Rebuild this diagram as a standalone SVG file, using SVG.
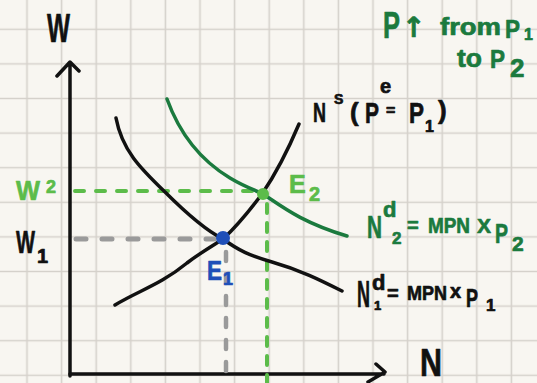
<svg xmlns="http://www.w3.org/2000/svg" width="537" height="383" viewBox="0 0 537 383">
<defs>
<pattern id="grid" patternUnits="userSpaceOnUse" x="9.7" y="12" width="34.6" height="34.6">
<path d="M17.3,0 V34.6 M0,17.3 H34.6" stroke="#d5d1cb" stroke-width="1.6" fill="none"/>
</pattern>
<style>
.t{font-family:"Liberation Sans","DejaVu Sans",sans-serif;font-weight:bold;stroke-width:0.7;stroke-linejoin:round}
.k{fill:#111;stroke:#111}
.dg{fill:#1b7a3e;stroke:#1b7a3e}
.lg{fill:#5cbc4a;stroke:#5cbc4a}
.bl{fill:#1f4fb8;stroke:#1f4fb8}
.ax{stroke:#111;stroke-width:3.5;fill:none;stroke-linecap:round;stroke-linejoin:round}
.cv{stroke-width:3.5;fill:none;stroke-linecap:round}
.dash{fill:none;stroke-linecap:round}
</style>
</defs>
<rect width="537" height="383" fill="#f8f6f1"/>
<rect width="537" height="383" fill="url(#grid)"/>

<g id="axes">
<path class="ax" d="M70,376 V63 M57,76 L70,62 L79,71"/>
<path class="ax" d="M70,374 H384 M376,364 L385,372 L368,382"/>
<text class="t k" x="47" y="42" font-size="40" textLength="23" lengthAdjust="spacingAndGlyphs">W</text>
<text class="t k" x="420" y="376" font-size="38" textLength="22" lengthAdjust="spacingAndGlyphs">N</text>
</g>

<g id="connectors">
<path class="dash" stroke="#5cbc4a" stroke-width="4" stroke-dasharray="9,12" d="M75,191 H258"/>
<path class="dash" stroke="#5cbc4a" stroke-width="4" stroke-dasharray="9,10" d="M267,204 V383"/>
<path class="dash" stroke="#9a9a9a" stroke-width="5" stroke-dasharray="10,16" d="M76,239 H214"/>
<path class="dash" stroke="#9a9a9a" stroke-width="4.5" stroke-dasharray="9,13" d="M226,252 V383"/>
</g>

<g id="demand1">
<path class="cv" stroke="#111" d="M116,118 C122,150 140,168 165,192 C185,212 205,230 223,239 C238,250 250,256 272,262 C300,270 320,280 342,291"/>
<text class="t k"><tspan font-size="37" x="357" y="307" textLength="13" lengthAdjust="spacingAndGlyphs">N</tspan><tspan font-size="22" x="372" y="290">d</tspan><tspan font-size="13" x="374" y="310">1</tspan><tspan font-size="20" x="387" y="300">=</tspan><tspan font-size="21" x="407" y="300" textLength="40" lengthAdjust="spacingAndGlyphs">MPN</tspan><tspan font-size="20" x="450" y="298">x</tspan><tspan font-size="26" x="466" y="307" textLength="12" lengthAdjust="spacingAndGlyphs">P</tspan><tspan font-size="17" x="486" y="311">1</tspan></text>
</g>

<g id="supply">
<path class="cv" stroke="#111" d="M115,305 C140,290 160,285 187,263 C200,253 212,246 223,239 C237,226 250,210 262,194 C275,175 288,150 299,124"/>
<text class="t k"><tspan font-size="28" x="313" y="122" textLength="13" lengthAdjust="spacingAndGlyphs">N</tspan><tspan font-size="14" x="334" y="104">S</tspan><tspan font-size="26" x="350" y="121">(</tspan><tspan font-size="30" x="365" y="123" textLength="14" lengthAdjust="spacingAndGlyphs">P</tspan><tspan font-size="20" x="380" y="93">e</tspan><tspan font-size="16" x="386" y="116">=</tspan><tspan font-size="30" x="409" y="123" textLength="15" lengthAdjust="spacingAndGlyphs">P</tspan><tspan font-size="16" x="425" y="132">1</tspan><tspan font-size="26" x="438" y="119">)</tspan></text>
</g>

<g id="demand2">
<path class="cv" stroke="#1b7a3e" d="M167,99 C180,135 200,160 230,178 C245,187 255,190 263,194 C280,205 300,222 347,236"/>
<text class="t dg"><tspan font-size="32" x="367" y="238" textLength="15" lengthAdjust="spacingAndGlyphs">N</tspan><tspan font-size="22" x="383" y="217">d</tspan><tspan font-size="17" x="392" y="244">2</tspan><tspan font-size="20" x="407" y="232">=</tspan><tspan font-size="22" x="428" y="233" textLength="42" lengthAdjust="spacingAndGlyphs">MPN</tspan><tspan font-size="21" x="477" y="233">X</tspan><tspan font-size="27" x="495" y="243" textLength="13" lengthAdjust="spacingAndGlyphs">P</tspan><tspan font-size="21" x="512" y="251">2</tspan></text>
</g>

<g id="title">
<text class="t dg"><tspan font-size="36" x="383" y="38" textLength="17" lengthAdjust="spacingAndGlyphs">P</tspan><tspan font-family="DejaVu Sans, sans-serif" font-size="28" x="402" y="37">↑</tspan><tspan font-size="23" x="440" y="35" textLength="61" lengthAdjust="spacingAndGlyphs">from</tspan><tspan font-size="25" x="505" y="38" textLength="15" lengthAdjust="spacingAndGlyphs">P</tspan><tspan font-size="16" x="524" y="40">1</tspan></text>
<text class="t dg"><tspan font-size="26" x="457" y="67" textLength="25" lengthAdjust="spacingAndGlyphs">to</tspan><tspan font-size="25" x="490" y="68" textLength="15" lengthAdjust="spacingAndGlyphs">P</tspan><tspan font-size="26" x="510" y="77">2</tspan></text>
</g>

<g id="W2">
<text class="t lg"><tspan font-size="28" x="16" y="200" textLength="24" lengthAdjust="spacingAndGlyphs">W</tspan><tspan font-size="18" x="46" y="193">2</tspan></text>
</g>

<g id="W1">
<text class="t k"><tspan font-size="32" x="16" y="253" textLength="19" lengthAdjust="spacingAndGlyphs">W</tspan><tspan font-size="20" x="37" y="263">1</tspan></text>
</g>

<g id="E2">
<circle cx="263" cy="194" r="6" fill="#5cbc4a"/>
<text class="t lg"><tspan font-size="25" x="289" y="193">E</tspan><tspan font-size="20" x="309" y="201">2</tspan></text>
</g>

<g id="E1">
<circle cx="223" cy="238" r="7" fill="#1f4fb8"/>
<text class="t bl"><tspan font-size="27" x="207" y="280" textLength="15" lengthAdjust="spacingAndGlyphs">E</tspan><tspan font-size="18" x="223" y="285">1</tspan></text>
</g>
</svg>
